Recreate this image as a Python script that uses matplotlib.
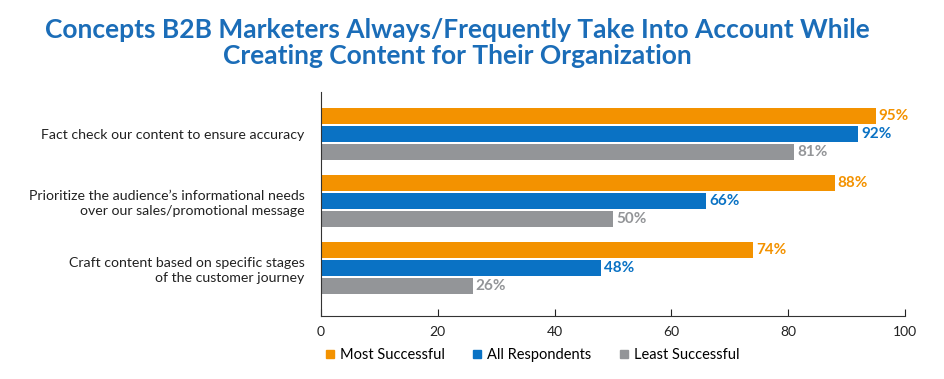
import numpy as np
import matplotlib.pyplot as plt
from matplotlib.lines import Line2D

# chart data
categories = ["Fact check our content to ensure accuracy",
              "Prioritize the audience\u2019s informational needs\nover our sales/promotional message",
              "Craft content based on specific stages\nof the customer journey"]
series_names = ["Most Successful", "All Respondents", "Least Successful"]
most_successful = [95, 88, 74]
all_respondents = [92, 66, 48]
least_successful = [81, 50, 26]
colors = ["#F39200", "#0A72C4", "#939598"]

plt.rcParams['font.family'] = ['Lato', 'DejaVu Sans']

fig = plt.figure(figsize=(9.45, 3.79), dpi=100)
ax = fig.add_axes([0.3397, 0.1662, 0.618, 0.591])

y = np.arange(len(categories))
step = 0.27
height = 0.245
for i, (name, vals) in enumerate(zip(series_names, [most_successful, all_respondents, least_successful])):
    pos = y + (i - 1) * step
    ax.barh(pos, vals, height=height, color=colors[i], label=name)
    for p, v in zip(pos, vals):
        ax.text(v + 0.5, p, f"{v}%", va="center", ha="left", fontsize=11,
                fontweight="bold", color=colors[i])

ax.set_xlim(0, 100)
ax.set_ylim(2.716, -0.627)
ax.set_xticks(np.arange(0, 101, 20))
ax.tick_params(axis="x", direction="in", length=5, labelsize=10, colors="#222222", pad=7)
ax.set_yticks(y)
ax.set_yticklabels(categories, fontsize=10.2, color="#222222", linespacing=1.25)
ax.tick_params(axis="y", length=0, pad=12)
for lbl in ax.get_yticklabels():
    lbl.set_multialignment("right")
ax.spines["top"].set_visible(False)
ax.spines["right"].set_visible(False)
ax.spines["left"].set_color("#333333")
ax.spines["bottom"].set_color("#333333")

fig.text(0.484, 0.887, "Concepts B2B Marketers Always/Frequently Take Into Account While\nCreating Content for Their Organization",
         ha="center", va="center", fontsize=19, fontweight="bold", color="#1B6DB8", linespacing=1.12)

handles = [Line2D([0], [0], marker="s", linestyle="", markersize=5.5, color=c) for c in colors]
fig.legend(handles, series_names, loc="center", bbox_to_anchor=(0.561, 0.063), ncol=3,
           frameon=False, fontsize=10.5, handletextpad=0.1, columnspacing=1.6,
           handlelength=1.2)

fig.savefig("out.png", dpi=100)
